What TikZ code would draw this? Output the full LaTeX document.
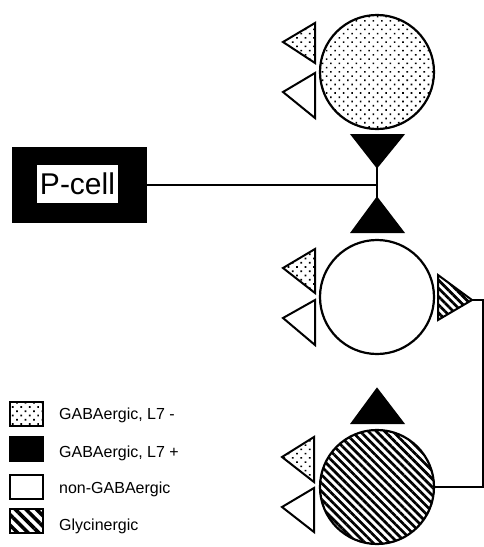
\documentclass[tikz,border=0pt]{standalone}
\usepackage{fontspec}
\setmainfont{Liberation Sans}
\usetikzlibrary{positioning, calc, patterns.meta}

\tikzset{
  cell/.style={circle, draw=black, line width=2.2pt, minimum size=114pt, inner sep=0pt},
  dotfill/.style={pattern={Dots[distance=6pt, radius=1.15pt, angle=45]}},
  hatchfill/.style={pattern={Lines[angle=-45, distance=5.8pt, line width=2.7pt]}},
  syn/.style={draw=black, line width=2pt, line join=miter},
  keybox/.style={draw=black, line width=2pt, minimum width=33pt, minimum height=24pt, inner sep=0pt},
  keytext/.style={anchor=west, inner sep=0pt, font=\fontsize{16}{19}\selectfont},
  wire/.style={line width=1.8pt}
}

\begin{document}
\begin{tikzpicture}[x=1pt, y=-1pt]
        \useasboundingbox (0,0) rectangle (484,547);

        % cells
        \node[cell, dotfill] (top) at (377,72) {};
        \node[cell, fill=white] (mid) at (377,297) {};
        \node[cell, hatchfill] (bot) at (377,487) {};

        \node[fill=black, minimum width=135pt, minimum height=76pt] (pcell) at (79.5,185) {};
        \node[fill=white, minimum width=81pt, minimum height=38pt, inner sep=0pt,
              font=\fontsize{30}{33}\selectfont] (plabel) at (77.5,184) {P-cell};

        % synapses on top cell
        \draw[syn, dotfill] (283,42) -- (315,23) -- (315,63) -- cycle;
        \draw[syn, fill=white] (283,92) -- (315,73) -- (315,118) -- cycle;
        \draw[syn, fill=black] (352,135) -- (403,135) -- (377,167) -- cycle;
        \draw[syn, fill=black] (377,198) -- (403,232) -- (352,232) -- cycle;
        \coordinate (dn) at (377,167);
        \coordinate (up) at (377,198);
        \coordinate (jn) at (377,185);

        % synapses on middle cell
        \draw[syn, dotfill] (283,268) -- (315,249) -- (315,293) -- cycle;
        \draw[syn, fill=white] (283,318) -- (315,300) -- (315,345) -- cycle;
        \draw[syn, hatchfill] (438,275) -- (472,300) -- (438,320) -- cycle;
        \coordinate (gly) at (472,300);

        % synapses on bottom cell
        \draw[syn, fill=black] (377,389) -- (403,423) -- (352,423) -- cycle;
        \draw[syn, dotfill] (282,457) -- (314,437) -- (314,482) -- cycle;
        \draw[syn, fill=white] (282,507) -- (314,488) -- (314,532) -- cycle;

        \draw[wire] (pcell.east) -- (jn);
        \draw[wire] (dn) -- (up);
        \draw[wire] (gly) -- (483,300) |- (bot.east);

        % legend
        \node[keybox, dotfill] (k1) at (26,414) {};
        \node[keybox, fill=black] (k2) at (26,449) {};
        \node[keybox, fill=white] (k3) at (26,487) {};
        \node[keybox, pattern={Lines[angle=-45, distance=7.5pt, line width=3.6pt]}] (k4) at (26,521) {};
        \node[keytext] (t1) at (59,415) {GABAergic, L7 -};
        \node[keytext] (t2) at (59,453) {GABAergic, L7 +};
        \node[keytext] (t3) at (59,489) {non-GABAergic};
        \node[keytext] (t4) at (59,526) {Glycinergic};
      \end{tikzpicture}
\end{document}
